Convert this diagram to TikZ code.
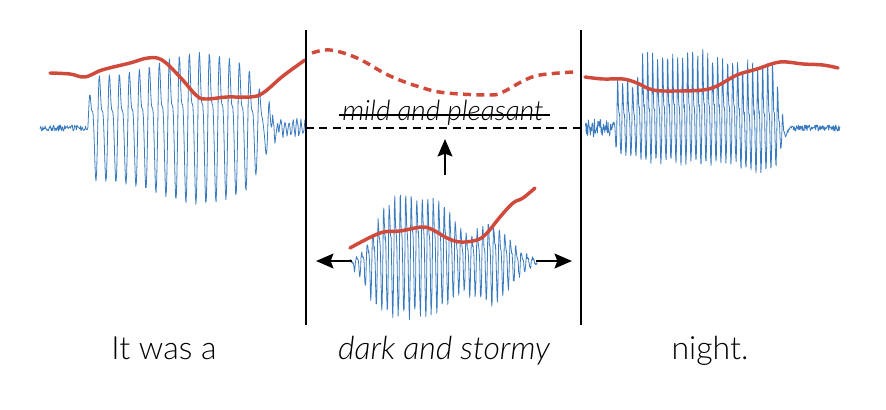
\documentclass[tikz,border=0pt]{standalone}
\usepackage{fontspec}
\setmainfont{Lato}[UprightFont=* Light, ItalicFont=* Light Italic]
\usetikzlibrary{arrows.meta}
\definecolor{wave}{RGB}{58,123,191}
\definecolor{pitch}{RGB}{208,74,60}
\begin{document}
\pgfmathsetseed{7}
\begin{tikzpicture}[x=0.75pt,y=-0.75pt,
  declare function={
    cl(\t)=max(0,min(1,\t));
    ss(\t)=cl(\t)*cl(\t)*(3-2*cl(\t));
    sq(\t)=(\t)*(\t);
    gx(\t)=exp(-min(\t,10));
    ppart(\t)=max(\t,0);
    npart(\t)=max(-\t,0);
    lw(\t)=0.72*sin(36*mod(\t-88,10))+0.33*sin(72*mod(\t-88,10)+40);
    rw(\t)=0.72*sin(72*mod(\t-612,5))+0.36*sin(144*mod(\t-612,5)+40);
    mw(\t)=0.75*sin(65.45*mod(\t-350,5.5))+0.3*sin(130.9*mod(\t-350,5.5)+50);
  },
  wavestyle/.style={draw=wave, line width=0.6pt, line join=round},
  pitchline/.style={draw=pitch, line width=2.6pt, line cap=round, line join=round},
  pitchdash/.style={draw=pitch, line width=2.6pt, line cap=butt, dash pattern=on 6pt off 4pt},
  divider/.style={draw=black, line width=2pt},
  baseline/.style={draw=black, line width=1.8pt, dash pattern=on 6pt off 4pt},
  strike/.style={draw=black, line width=0.9pt},
  arrowline/.style={draw=black, line width=2pt, -{Stealth[length=13pt,width=11pt,inset=2pt]}},
  lbl/.style={font=\fontsize{24}{29}\selectfont, inner sep=0pt},
  smalllbl/.style={font=\fontsize{21}{25}\selectfont, inner sep=0pt}
]
\useasboundingbox (0,0) rectangle (886,410);
\fill[white] (0,0) rectangle (886,410);

% ---- waveforms ----
% left: "It was a"
\draw[wavestyle] plot[domain=40:305, samples=460, variable=\x]
  (\x, {128 - ss((\x-86)/6)*(1-ss((\x-242)/45))*(52+24*gx(sq((\x-200)/55)))
          *(1.3*ppart(lw(\x)) - npart(lw(\x)))
        + (3*(1-ss((\x-86)/6)) + 3*ss((\x-262)/12))*rand
        - 7*ss((\x-258)/10)*sin(90*mod(\x,4))});

% right: "night."
\draw[wavestyle] plot[domain=585:840, samples=620, variable=\x]
  (\x, {128 - ss((\x-612)/6)*(1-ss((\x-772)/16))*(0.9+0.1*rand)
          *((68+38*ss((\x-634)/8))*(1-0.08*sq(sin(2.2*(\x-612))))*ppart(rw(\x))
          - (30+7*ss((\x-636)/8))*npart(rw(\x)))
        + (9*(1-ss((\x-610)/6)) + 3*ss((\x-784)/6))*rand
        + 7*ss((\x-738)/6)*(1-ss((\x-786)/4))});

% middle: "dark and stormy"
\draw[wavestyle] plot[domain=350:537, samples=460, variable=\x]
  (\x, {262 - (0.9+0.1*rand)*((98*gx(sq(sq((\x-415)/45))) + 56*gx(sq((\x-490)/28)))*ppart(mw(\x))
        - (58*gx(sq(sq((\x-410)/48))) + 44*gx(sq((\x-490)/30)))*npart(mw(\x)))
        + 2*rand});

% ---- pitch curves ----
\draw[pitchline] plot[smooth, tension=0.6] coordinates {
  (50,73) (70,74) (85,77) (102,70) (130,63) (148,58) (162,60) (180,77) (197,96)
  (207,99) (227,97) (250,97) (263,93) (283,76) (305,60)};
\draw[pitchdash] plot[smooth, tension=0.6] coordinates {
  (312,53) (330,50) (357,58) (390,76) (423,88) (447,93) (490,95) (503,92)
  (523,81) (540,75) (573,72)};
\draw[pitchline] plot[smooth, tension=0.6] coordinates {
  (585,77) (603,79) (623,79) (637,83) (653,90) (677,91) (703,90) (717,86)
  (737,75) (757,69) (780,62) (803,64) (823,65) (838,68)};
\draw[pitchline] plot[smooth, tension=0.6] coordinates {
  (350,248) (380,233) (400,231) (422,227) (433,230) (447,238) (460,242)
  (477,240) (487,233) (500,217) (513,203) (523,198) (535,188)};

% ---- structure ----
\coordinate (v1t) at (306,30); \coordinate (v1b) at (306,325);
\coordinate (v2t) at (581,30); \coordinate (v2b) at (581,325);
\draw[divider] (v1t) -- (v1b);
\draw[divider] (v2t) -- (v2b);
\coordinate (d1) at (306,128); \coordinate (d2) at (581,128);
\draw[baseline] (d1) -- (d2);

\node[smalllbl, anchor=base] (alt) at (443,121) {\itshape mild and pleasant};
\coordinate (s1) at (339,115); \coordinate (s2) at (550,115);
\draw[strike] (s1) -- (s2);

\coordinate (ua1) at (445,175); \coordinate (ua2) at (445,139);
\draw[arrowline] (ua1) -- (ua2);
\coordinate (la1) at (352,261); \coordinate (la2) at (316,261);
\draw[arrowline] (la1) -- (la2);
\coordinate (ra1) at (536,261); \coordinate (ra2) at (572,261);
\draw[arrowline] (ra1) -- (ra2);

% ---- words ----
\node[lbl, anchor=base] (w1) at (164,359) {It was a};
\node[lbl, anchor=base] (w2) at (444,359) {\itshape dark and stormy};
\node[lbl, anchor=base] (w3) at (710,359) {night.};
\end{tikzpicture}
\end{document}
